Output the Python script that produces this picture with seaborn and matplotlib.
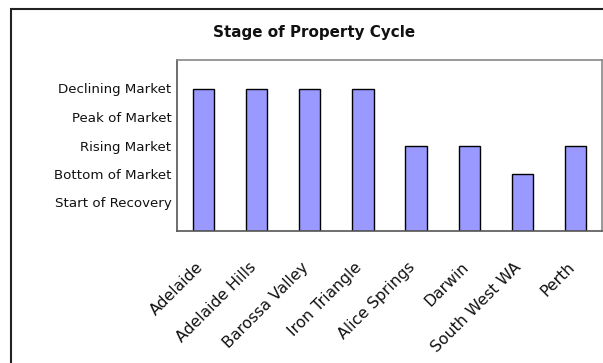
import matplotlib
matplotlib.use("Agg")
import matplotlib.pyplot as plt
from matplotlib.patches import Rectangle
from matplotlib.ticker import FixedLocator
import seaborn as sns
import pandas as pd

# Regions and the stage each one is at (1 = Start of Recovery ... 5 = Declining Market)
regions = ["Adelaide", "Adelaide Hills", "Barossa Valley", "Iron Triangle",
           "Alice Springs", "Darwin", "South West WA", "Perth"]
stage = [5, 5, 5, 5, 3, 3, 2, 3]
stage_labels = ["", "Start of Recovery", "Bottom of Market", "Rising Market",
                "Peak of Market", "Declining Market", ""]

df = pd.DataFrame({"region": regions, "stage": stage})

sns.set_theme(style="white")
plt.rcParams["font.family"] = ["DejaVu Sans"]

fig = plt.figure(figsize=(6.03, 3.63), dpi=100)
ax = fig.add_axes([177 / 603, 1 - 231 / 363, (602 - 177) / 603, (231 - 60) / 363])

sns.barplot(data=df, x="region", y="stage", color="#9999FF", saturation=1,
            edgecolor="black", linewidth=1.0, width=0.4, ax=ax)

ax.set_xlim(-0.5, len(regions) - 0.5)
ax.set_ylim(0, 6)
ax.set_xlabel("")
ax.set_ylabel("")

# y axis: stage names at each integer step
ax.set_yticks(range(len(stage_labels)))
ax.set_yticklabels(stage_labels, fontsize=9.6, color="#111111")
ax.tick_params(axis="y", direction="out", length=3, width=2, color="black", pad=1)

# x axis: labels under the bars, tick marks between categories
ax.set_xticks(range(len(regions)))
ax.set_xticklabels(regions, rotation=45, ha="right", va="baseline",
                   rotation_mode="anchor", fontsize=11.3, color="#111111")
ax.tick_params(axis="x", which="major", length=0, pad=26.5)
ax.xaxis.set_minor_locator(FixedLocator([i - 0.5 for i in range(len(regions) + 1)]))
ax.tick_params(axis="x", which="minor", direction="out", length=4, width=1, color="#808080")

for side in ["left", "bottom"]:
    ax.spines[side].set_color("#555555")
    ax.spines[side].set_linewidth(1.2)
for side in ["top", "right"]:
    ax.spines[side].set_color("#888888")
    ax.spines[side].set_linewidth(1.2)

fig.text(314 / 603, 1 - 33 / 363, "Stage of Property Cycle", ha="center", va="center",
         fontsize=10.9, fontweight="bold", color="#111111")

# chart area border
fig.patches.append(Rectangle((10.5 / 603, -0.2), 1.2, 1.2 - 8.5 / 363,
                             transform=fig.transFigure, fill=False,
                             edgecolor="#222222", linewidth=1.5))

fig.savefig("out.png", dpi=100)
